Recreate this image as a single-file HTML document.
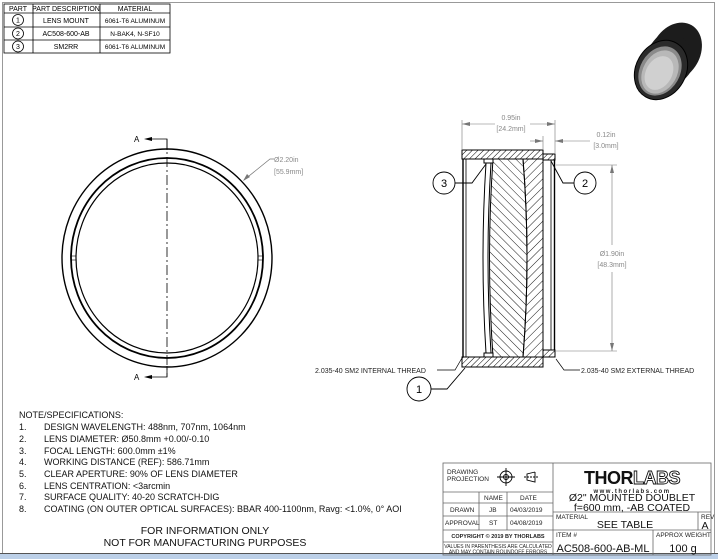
<!DOCTYPE html>
<html><head><meta charset="utf-8"><style>
html,body{margin:0;padding:0;background:#fff}
svg{display:block}
text{font-family:"Liberation Sans",sans-serif}
</style></head><body>
<svg width="718" height="559" viewBox="0 0 718 559" xmlns="http://www.w3.org/2000/svg">
<defs>
<pattern id="h1" width="4" height="4" patternUnits="userSpaceOnUse" patternTransform="rotate(45)"><line x1="0" y1="0" x2="0" y2="4" stroke="#000" stroke-width="1"/></pattern>
<pattern id="h2" width="6" height="6" patternUnits="userSpaceOnUse" patternTransform="rotate(-45)"><line x1="0" y1="0" x2="0" y2="6" stroke="#000" stroke-width="0.9"/></pattern>
<pattern id="h3" width="6" height="6" patternUnits="userSpaceOnUse" patternTransform="rotate(45)"><line x1="0" y1="0" x2="0" y2="6" stroke="#000" stroke-width="0.9"/></pattern>
</defs>
<rect x="0" y="0" width="718" height="559" fill="#fff"/>
<rect x="2.5" y="2.5" width="712" height="551" fill="none" stroke="#999" stroke-width="1"/>
<rect x="0" y="553" width="718" height="6" fill="#bcd0e8"/>
<line x1="0" y1="553.5" x2="718" y2="553.5" stroke="#555" stroke-width="1"/>

<g stroke="#000" stroke-width="0.8" fill="none">
<rect x="4" y="4" width="166" height="49"/>
<line x1="4" y1="13" x2="170" y2="13"/><line x1="4" y1="27" x2="170" y2="27"/><line x1="4" y1="40" x2="170" y2="40"/>
<line x1="33" y1="4" x2="33" y2="53"/><line x1="100" y1="4" x2="100" y2="53"/>
<circle cx="18" cy="20" r="5.5"/><circle cx="18" cy="33.5" r="5.5"/><circle cx="18" cy="46.5" r="5.5"/>
</g>
<g font-size="7" text-anchor="middle" fill="#000">
<text x="18" y="11">PART</text><text x="66" y="11">PART DESCRIPTION</text><text x="135" y="11">MATERIAL</text>
<text x="18" y="22.5">1</text><text x="18" y="36">2</text><text x="18" y="49">3</text>
<text x="66" y="23">LENS MOUNT</text><text x="66" y="36">AC508-600-AB</text><text x="66" y="49">SM2RR</text>
<text x="135" y="23" font-size="6.5">6061-T6 ALUMINUM</text><text x="135" y="36" font-size="6.5">N-BAK4, N-SF10</text><text x="135" y="49" font-size="6.5">6061-T6 ALUMINUM</text>
</g>

<!-- product image -->
<g fill="#1c1c1c">
<ellipse cx="676" cy="52" rx="24" ry="31" transform="rotate(30 676 52)"/>
<ellipse cx="671" cy="58" rx="24" ry="31" transform="rotate(30 671 58)"/>
<ellipse cx="666" cy="64" rx="24" ry="31" transform="rotate(30 666 64)"/>
<ellipse cx="661" cy="70" rx="25" ry="31" transform="rotate(30 661 70)" fill="#2a2a2a" stroke="#000"/>
<ellipse cx="660" cy="71" rx="20" ry="26" transform="rotate(30 660 71)" fill="#8a8a8a"/>
<ellipse cx="660" cy="72" rx="17" ry="23" transform="rotate(30 660 72)" fill="#b8b8b8"/>
<ellipse cx="659" cy="73" rx="13" ry="18" transform="rotate(30 659 73)" fill="#d0d0d0"/>
</g>

<g fill="none" stroke="#000">
<ellipse cx="167" cy="258" rx="105" ry="109" stroke-width="1.4"/>
<ellipse cx="167" cy="258" rx="96" ry="100" stroke-width="1.8"/>
<ellipse cx="167" cy="258" rx="91" ry="95" stroke-width="1.2"/>
<line x1="71" y1="256" x2="76" y2="256" stroke-width="0.6"/><line x1="71" y1="260" x2="76" y2="260" stroke-width="0.6"/>
<line x1="258" y1="256" x2="263" y2="256" stroke-width="0.6"/><line x1="258" y1="260" x2="263" y2="260" stroke-width="0.6"/>
<line x1="167" y1="139" x2="167" y2="377" stroke-width="0.8" stroke-dasharray="10,3,2,3"/>
<polyline points="148,139 167,139 167,150" stroke-width="0.8"/>
<polyline points="148,377 167,377 167,366" stroke-width="0.8"/>
</g>
<polygon points="144,139 152,137 152,141" fill="#000"/>
<polygon points="144,377 152,375 152,379" fill="#000"/>
<text x="134" y="142" font-size="8">A</text><text x="134" y="380" font-size="8">A</text>
<polyline points="244,180 270,159 274,159" fill="none" stroke="#777" stroke-width="0.7"/>
<polygon points="243,181 247,174 250,177" fill="#777"/>
<text x="274" y="162" font-size="7" fill="#888">Ø2.20in</text>
<text x="274" y="174" font-size="7" fill="#888">[55.9mm]</text>

<g stroke="#000" stroke-width="1">
<rect x="462" y="150" width="81" height="9" fill="url(#h1)"/>
<rect x="543" y="154" width="12" height="6" fill="url(#h1)"/>
<rect x="462" y="357" width="81" height="10" fill="url(#h1)"/>
<rect x="543" y="350" width="12" height="7" fill="url(#h1)"/>
<path d="M493,159 Q486,258 493,357 L523,357 Q531,258 523,159 Z" fill="url(#h2)"/>
<path d="M523,159 Q531,258 523,357 L543,357 L543,159 Z" fill="url(#h3)"/>
<path d="M486,163 L491,163 Q485,258 491,353 L486,353 Q480,258 486,163 Z" fill="#fff"/>
<rect x="484" y="159" width="9" height="4" fill="#fff"/>
<rect x="484" y="353" width="9" height="4" fill="#fff"/>
</g>
<g stroke="#000" fill="none">
<line x1="463" y1="159" x2="463" y2="357" stroke-width="1.4"/>
<line x1="466" y1="159" x2="466" y2="357" stroke-width="0.8"/>
<line x1="551" y1="160" x2="551" y2="350" stroke-width="0.8"/>
<line x1="554.5" y1="160" x2="554.5" y2="350" stroke-width="1.4"/>
</g>
<g stroke="#777" stroke-width="0.6" fill="none">
<line x1="462" y1="120" x2="462" y2="149"/><line x1="555" y1="120" x2="555" y2="153"/>
<line x1="462" y1="124" x2="495" y2="124"/><line x1="530" y1="124" x2="555" y2="124"/>
<line x1="543" y1="136" x2="543" y2="149"/>
<line x1="530" y1="141" x2="543" y2="141"/><line x1="555" y1="141" x2="590" y2="141"/>
<line x1="556" y1="165" x2="617" y2="165"/><line x1="556" y1="351" x2="617" y2="351"/>
<line x1="612" y1="165" x2="612" y2="245"/><line x1="612" y1="272" x2="612" y2="351"/>
</g>
<g fill="#777">
<polygon points="462,124 470,122 470,126"/><polygon points="555,124 547,122 547,126"/>
<polygon points="543,141 535,139 535,143"/><polygon points="555,141 563,139 563,143"/>
<polygon points="612,165 610,173 614,173"/><polygon points="612,351 610,343 614,343"/>
</g>
<g font-size="7" fill="#888" text-anchor="middle">
<text x="511" y="120">0.95in</text><text x="511" y="131">[24.2mm]</text>
<text x="606" y="137">0.12in</text><text x="606" y="148">[3.0mm]</text>
<text x="612" y="256">Ø1.90in</text><text x="612" y="267">[48.3mm]</text>
</g>
<g fill="none" stroke="#000" stroke-width="0.9">
<circle cx="444" cy="183" r="11"/><polyline points="455,183 472,183 486,164"/>
<circle cx="585" cy="183" r="11"/><polyline points="574,183 563,183 551,161"/>
<circle cx="419" cy="389" r="12"/><polyline points="431,389 447,389 465,368"/>
<polyline points="437,370 455,370 462,358" stroke-width="0.7"/>
<polyline points="580,370 564,370 556,359" stroke-width="0.7"/>
</g>
<g font-size="11" text-anchor="middle"><text x="444" y="187">3</text><text x="585" y="187">2</text><text x="419" y="393">1</text></g>
<text x="315" y="373" font-size="7" fill="#222">2.035-40 SM2 INTERNAL THREAD</text>
<text x="581" y="373" font-size="7" fill="#222">2.035-40 SM2 EXTERNAL THREAD</text>

<g font-size="9" fill="#111">
<text x="19" y="418">NOTE/SPECIFICATIONS:</text>
<text x="19" y="430">1.</text><text x="44" y="430">DESIGN WAVELENGTH: 488nm, 707nm, 1064nm</text>
<text x="19" y="442">2.</text><text x="44" y="442">LENS DIAMETER: Ø50.8mm +0.00/-0.10</text>
<text x="19" y="454">3.</text><text x="44" y="454">FOCAL LENGTH: 600.0mm ±1%</text>
<text x="19" y="465">4.</text><text x="44" y="465">WORKING DISTANCE (REF): 586.71mm</text>
<text x="19" y="477">5.</text><text x="44" y="477">CLEAR APERTURE: 90% OF LENS DIAMETER</text>
<text x="19" y="489">6.</text><text x="44" y="489">LENS CENTRATION: &lt;3arcmin</text>
<text x="19" y="500">7.</text><text x="44" y="500">SURFACE QUALITY: 40-20 SCRATCH-DIG</text>
<text x="19" y="512">8.</text><text x="44" y="512">COATING (ON OUTER OPTICAL SURFACES): BBAR 400-1100nm, Ravg: &lt;1.0%, 0° AOI</text>
</g>
<g font-size="10.5" text-anchor="middle" fill="#111">
<text x="205" y="534">FOR INFORMATION ONLY</text>
<text x="205" y="546">NOT FOR MANUFACTURING PURPOSES</text>
</g>

<g stroke="#666" stroke-width="0.8" fill="none">
<rect x="443" y="463" width="268" height="92"/>
<line x1="553" y1="463" x2="553" y2="555"/>
<line x1="443" y1="492" x2="553" y2="492"/>
<line x1="443" y1="503" x2="553" y2="503"/>
<line x1="443" y1="516" x2="553" y2="516"/>
<line x1="443" y1="530" x2="711" y2="530"/>
<line x1="443" y1="542" x2="553" y2="542"/>
<line x1="479" y1="492" x2="479" y2="530"/><line x1="507" y1="492" x2="507" y2="530"/>
<line x1="553" y1="512" x2="711" y2="512"/>
<line x1="698" y1="512" x2="698" y2="530"/>
<line x1="653" y1="530" x2="653" y2="555"/>
</g>
<g stroke="#000" fill="none" stroke-width="0.9">
<circle cx="506" cy="477" r="6"/><circle cx="506" cy="477" r="2.5"/>
<line x1="497" y1="477" x2="515" y2="477"/><line x1="506" y1="468" x2="506" y2="486"/>
<polyline points="535,472 527,474 527,480 535,482 535,472"/>
<line x1="524" y1="477" x2="539" y2="477" stroke-dasharray="2,1"/>
</g>
<g font-size="6.5" fill="#222">
<text x="447" y="474">DRAWING</text><text x="447" y="481">PROJECTION</text>
<text x="484" y="500">NAME</text><text x="520" y="500">DATE</text>
<text x="450" y="512">DRAWN</text><text x="489" y="512">JB</text><text x="510" y="512">04/03/2019</text>
<text x="445" y="525">APPROVAL</text><text x="489" y="525">ST</text><text x="510" y="525">04/08/2019</text>
<text x="498" y="538" text-anchor="middle" font-size="5.5" font-weight="bold">COPYRIGHT © 2019 BY THORLABS</text>
<text x="498" y="548" text-anchor="middle" font-size="5">VALUES IN PARENTHESIS ARE CALCULATED</text>
<text x="498" y="553.5" text-anchor="middle" font-size="5">AND MAY CONTAIN ROUNDOFF ERRORS</text>
<text x="556" y="519">MATERIAL</text><text x="701" y="519">REV</text>
<text x="556" y="537">ITEM #</text><text x="656" y="537">APPROX WEIGHT</text>
</g>
<text x="632" y="484" font-size="18" font-weight="bold" text-anchor="middle" fill="#111" letter-spacing="-0.5">THOR<tspan fill="#fff" stroke="#111" stroke-width="0.9">LABS</tspan></text>
<text x="632" y="493" font-size="6" font-weight="bold" text-anchor="middle" letter-spacing="1.5" fill="#222">www.thorlabs.com</text>
<g font-size="10.5" text-anchor="middle" fill="#111">
<text x="632" y="501">Ø2" MOUNTED DOUBLET</text>
<text x="632" y="511">f=600 mm, -AB COATED</text>
<text x="625" y="528">SEE TABLE</text>
<text x="705" y="529">A</text>
<text x="603" y="552" font-size="11">AC508-600-AB-ML</text>
<text x="683" y="552" font-size="11">100 g</text>
</g>
</svg>
</body></html>
